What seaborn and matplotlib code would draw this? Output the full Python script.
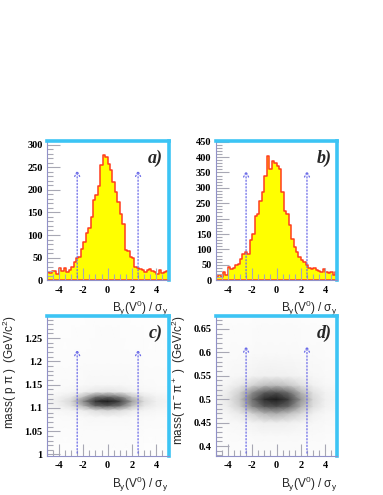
import numpy as np
import matplotlib
matplotlib.use('Agg')
import matplotlib.pyplot as plt
import seaborn as sns
from matplotlib.ticker import MultipleLocator, FormatStrFormatter

# bin centres of the B_y(V0)/sigma_y histograms (50 bins, -5..5)
bin_edges = np.linspace(-5, 5, 51)
bin_centers = (bin_edges[:-1] + bin_edges[1:]) / 2

counts_a = [18, 16, 20, 20, 14, 28, 20, 28, 18, 22,
            30, 40, 50, 52, 68, 85, 105, 115, 140, 178,
            188, 208, 255, 278, 272, 258, 243, 218, 195, 172,
            147, 125, 66, 64, 52, 48, 30, 28, 24, 22,
            18, 22, 24, 20, 18, 14, 22, 16, 18, 20]

counts_b = [11, 18, 11, 27, 16, 43, 36, 38, 50, 54,
            70, 86, 92, 86, 129, 151, 210, 215, 258, 285,
            339, 404, 361, 388, 382, 372, 361, 285, 226, 215,
            178, 135, 108, 92, 75, 65, 59, 48, 40, 36,
            40, 32, 30, 25, 36, 27, 22, 27, 18, 27]

# density grids (relative darkness)
grid_x = [-5, -4, -3, -2, -1, 0, 1, 2, 3, 4, 5]

grid_y_c = [1.0, 1.05, 1.08, 1.095, 1.105, 1.115, 1.125, 1.135, 1.15, 1.2, 1.3]
dens_c = [
    [2, 2, 2, 3, 3, 3, 3, 3, 2, 2, 2],
    [3, 3, 3, 4, 4, 4, 4, 4, 3, 3, 3],
    [4, 4, 5, 6, 7, 8, 7, 6, 5, 4, 4],
    [6, 7, 10, 16, 26, 30, 26, 16, 10, 7, 6],
    [9, 13, 22, 45, 75, 80, 70, 40, 20, 12, 9],
    [10, 16, 28, 60, 92, 100, 88, 52, 26, 14, 10],
    [8, 11, 18, 38, 65, 70, 60, 35, 18, 10, 8],
    [5, 6, 9, 14, 20, 22, 19, 13, 8, 6, 5],
    [4, 4, 5, 6, 7, 8, 7, 6, 5, 4, 4],
    [3, 3, 3, 4, 4, 4, 4, 4, 3, 3, 3],
    [2, 2, 2, 2, 3, 3, 3, 2, 2, 2, 2],
]

grid_y_d = [0.38, 0.42, 0.45, 0.47, 0.485, 0.5, 0.515, 0.53, 0.55, 0.6, 0.68]
dens_d = [
    [3, 3, 3, 4, 4, 4, 4, 4, 3, 3, 3],
    [4, 4, 5, 5, 6, 6, 6, 5, 5, 4, 4],
    [5, 6, 8, 11, 15, 15, 14, 10, 7, 6, 5],
    [7, 10, 18, 32, 45, 48, 40, 28, 14, 8, 6],
    [10, 16, 32, 60, 80, 84, 74, 46, 24, 12, 8],
    [11, 19, 38, 70, 94, 100, 88, 55, 28, 14, 9],
    [10, 16, 32, 58, 78, 82, 70, 44, 22, 12, 8],
    [7, 10, 18, 30, 40, 42, 36, 24, 13, 8, 6],
    [5, 6, 8, 11, 14, 14, 13, 10, 7, 6, 5],
    [4, 4, 5, 5, 6, 6, 6, 5, 5, 4, 4],
    [3, 3, 3, 3, 4, 4, 4, 3, 3, 3, 3],
]

cut = 2.5
arrow_top = {'a': 250, 'b': 365, 'c': 1.232, 'd': 0.62}

sns.set_theme(style='white')
plt.rcParams['font.family'] = ['Liberation Serif', 'DejaVu Serif']
plt.rcParams['font.weight'] = 'bold'
plt.rcParams['axes.unicode_minus'] = False
plt.rcParams['mathtext.default'] = 'regular'

fig = plt.figure(figsize=(3.83, 4.95), dpi=100)
ax_a = fig.add_axes([0.122, 0.434, 0.318, 0.281])
ax_b = fig.add_axes([0.563, 0.434, 0.318, 0.281])
ax_c = fig.add_axes([0.122, 0.079, 0.318, 0.283])
ax_d = fig.add_axes([0.563, 0.079, 0.318, 0.283])

xlab = r'B$_y$(V$^0$) / σ$_y$'


def style(ax, ymaj, ymin):
    ax.set_xlim(-5, 5)
    ax.xaxis.set_major_locator(MultipleLocator(2))
    ax.xaxis.set_minor_locator(MultipleLocator(0.5))
    ax.yaxis.set_major_locator(MultipleLocator(ymaj))
    ax.yaxis.set_minor_locator(MultipleLocator(ymin))
    ax.tick_params(which='both', direction='in', color='#a8a8b4', width=0.8,
                   labelsize=7.5, pad=3, labelcolor='black',
                   bottom=True, left=True, top=False, right=False)
    ax.tick_params(which='major', length=9)
    ax.tick_params(which='minor', length=4.5)
    ax.tick_params(axis='x', which='major', pad=4)
    for s in ['left', 'bottom']:
        ax.spines[s].set_color('#9090c8')
        ax.spines[s].set_linewidth(0.8)
    for s in ['top', 'right']:
        ax.spines[s].set_color('#3cc4f4')
        ax.spines[s].set_linewidth(2.6)
    for sp in ax.spines.values():
        sp.set_zorder(5)
    ax.set_axisbelow(False)
    ax.set_xlabel(xlab, family='Liberation Sans', weight='normal',
                  fontsize=8.5, loc='right', labelpad=3)
    ax.set_ylabel('')


def arrow(ax, top, bottom):
    for xc in (-cut, cut):
        ax.annotate('', xy=(xc, top), xytext=(xc, bottom),
                    arrowprops=dict(arrowstyle='->', ls=':', color='#6a6ae8',
                                    lw=0.9, mutation_scale=9), zorder=4)


def letter(ax, t):
    ax.text(0.955, 0.94, t, transform=ax.transAxes, ha='right', va='top',
            fontsize=13, fontstyle='italic', weight='bold',
            family='Liberation Serif', zorder=6)


# histograms
for ax, counts, ymax, lab, key in [(ax_a, counts_a, 308, 'a)', 'a'),
                                   (ax_b, counts_b, 452, 'b)', 'b')]:
    sns.histplot(x=bin_centers, weights=counts, binwidth=0.2, binrange=(-5, 5),
                 element='step', fill=True, color='#ffff00',
                 edgecolor='#ff3c1e', linewidth=1.1, alpha=1, ax=ax)
    ax.set_ylim(0, ymax)
    style(ax, 50, 10)
    arrow(ax, arrow_top[key], 0)
    letter(ax, lab)

# mass vs B_y density
for ax, gy, dens, ylim, lab, key, ylab in [
        (ax_c, grid_y_c, dens_c, (0.997, 1.298), 'c)', 'c',
         r'mass( p π )  (GeV/c$^2$)'),
        (ax_d, grid_y_d, dens_d, (0.379, 0.678), 'd)', 'd',
         r'mass( π$^-$π$^+$ )  (GeV/c$^2$)')]:
    X, Y = np.meshgrid(grid_x, gy)
    ax.pcolormesh(X, Y, np.array(dens), shading='gouraud', cmap='Greys',
                  vmin=0, vmax=110, rasterized=True)
    ax.set_ylim(*ylim)
    style(ax, 0.05, 0.01)
    ax.yaxis.set_major_formatter(FormatStrFormatter('%g'))
    ax.set_ylabel(ylab, family='Liberation Sans', weight='normal',
                  fontsize=8.5, loc='top', labelpad=4)
    arrow(ax, arrow_top[key], ylim[0])
    letter(ax, lab)

fig.savefig('out.png', dpi=100)
